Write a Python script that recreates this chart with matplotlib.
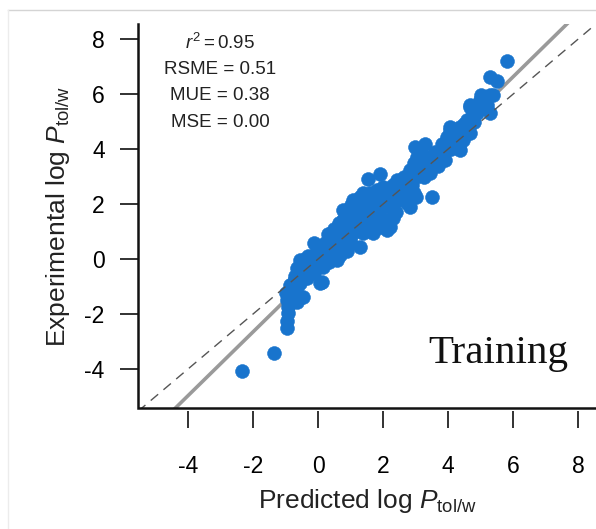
import matplotlib
matplotlib.use("Agg")
import matplotlib.pyplot as plt
from matplotlib.lines import Line2D
import numpy as np

plt.rcParams['font.family'] = ['Liberation Sans', 'DejaVu Sans']
plt.rcParams['mathtext.fontset'] = 'custom'
plt.rcParams['mathtext.rm'] = 'Liberation Sans'
plt.rcParams['mathtext.it'] = 'Liberation Sans:italic'

# predicted vs experimental log P (training set)
pred = [
    -2.35, -1.37,
    -0.96, -0.96, -0.93, -0.93, -0.96, -1.00,
    -0.86, -0.66, -0.55, -0.66, -0.45, -0.80,
    -0.55, -0.66, -0.45, -0.35, -0.61, -0.75,
    0.11, 0.06, -0.14, -0.20, -0.30, -0.14, -0.04, 0.06,
    0.00, 0.15, 0.25, 0.27, 0.37, 0.37, 0.47, 0.57, 0.68, 0.58, 0.45, 0.50,
    0.78, 0.88, 0.98, 1.09, 1.19, 1.29, 1.39, 1.19, 1.39, 1.29, 1.00, 0.85, 0.77, 1.08, 1.10, 0.70, 0.90,
    1.60, 1.81, 2.01, 2.22, 2.22, 2.11, 1.91, 1.70, 2.11, 1.50, 1.70, 1.50, 1.30, 1.90, 2.30,
    1.55, 1.91,
    1.60, 1.81, 2.01, 2.42, 2.63, 2.83, 2.73, 2.94, 2.63, 2.42, 2.83, 2.73, 2.20, 2.50, 2.30, 2.10,
    2.94, 3.04, 3.25, 3.45, 3.25, 3.14, 3.45, 3.65, 3.86, 3.96, 4.06, 4.16, 4.32, 4.47, 4.57, 4.06,
    3.96, 4.37, 4.57, 4.78, 4.88, 4.98, 5.09, 5.19, 5.39, 4.68, 4.62, 4.37, 4.68, 5.29, 4.06, 4.68,
    3.10, 3.60, 3.80,
    2.98, 3.29, 3.49,
    5.29, 5.50, 5.81, 5.00, 5.20,
    -0.85, -0.70, -0.50, -0.40, -0.25, -0.10, 0.10, 0.20, 0.30, 0.35, 0.55, 0.65, 0.75, 0.95,
    0.65, 1.00, 1.20, 1.40, 1.45, 1.65, 1.75, 1.25, 1.05, 0.90, 2.00, 2.40, 2.55, 2.60, 2.90,
    3.00, 3.20, 3.35, 3.50, 3.70, 3.90, 4.10, 4.20, 4.40, 4.50, 4.80, 4.90, 5.10, 5.30, 5.00,
    3.00, 2.30, 1.85, 1.95,
]
expt = [
    -4.07, -3.43,
    -2.52, -2.25, -1.98, -1.73, -1.49, -1.22,
    -1.13, -1.01, -0.88, -1.55, -1.37, -1.35,
    -0.04, -0.34, -0.52, -0.70, -0.64, -0.80,
    -0.82, -0.88, -0.52, -0.20, 0.10, 0.57, 0.33, 0.45,
    0.00, -0.30, 0.10, 0.57, 0.21, 0.69, 0.81, 0.93, 0.15, -0.04, 0.45, 1.10,
    1.42, 1.18, 1.66, 1.90, 2.08, 2.27, 2.39, 1.42, 0.93, 0.45, 0.60, 0.80, 1.78, 2.15, 1.20, 0.50, 0.30,
    1.42, 1.66, 1.90, 1.90, 1.18, 1.42, 1.18, 0.93, 1.05, 1.90, 2.10, 1.10, 1.70, 1.50, 1.50,
    2.90, 3.09,
    2.39, 2.51, 2.63, 2.87, 2.99, 3.24, 2.63, 2.39, 2.39, 2.15, 1.90, 2.02, 2.30, 2.50, 2.70, 2.20,
    3.48, 3.72, 3.60, 3.12, 2.99, 3.85, 3.36, 3.60, 3.84, 4.08, 4.21, 4.45, 4.08, 4.33, 4.69, 4.69,
    4.45, 4.81, 5.05, 5.30, 5.54, 5.78, 5.90, 5.90, 5.96, 5.61, 4.57, 3.96, 4.57, 5.30, 4.81, 5.54,
    3.20, 3.90, 4.20,
    4.08, 4.18, 2.27,
    6.61, 6.47, 7.21, 5.50, 5.60,
    -0.95, -0.60, -0.30, 0.00, -0.40, 0.10, 0.25, 0.60, 0.90, -0.10, 0.35, 0.75, 1.10, 1.40,
    1.30, 1.95, 1.80, 2.00, 1.50, 1.70, 1.30, 1.05, 0.90, 0.55, 1.30, 1.70, 2.20, 2.70, 2.70,
    3.00, 3.30, 3.70, 3.50, 3.40, 3.60, 4.00, 4.40, 4.50, 4.90, 5.00, 5.30, 5.70, 5.95, 5.95,
    2.25, 2.05, 2.30, 2.00,
]

fit_slope = 1.16
fit_intercept = -0.33

stats = ["$r^2 = 0.95$", "RSME = 0.51", "MUE = 0.38", "MSE = 0.00"]
ticks = [-4, -2, 0, 2, 4, 6, 8]

fig = plt.figure(figsize=(5.96, 5.29), dpi=100)
ax = fig.add_axes([138 / 596, 121 / 529, 458 / 596, 384 / 529])
xlim = (-5.54, 8.55)
ylim = (-5.42, 8.55)

# regression line under the points, y = x on top
xx = np.array(xlim)
ax.plot(xx, fit_slope * xx + fit_intercept, color='#9a9a9a', lw=2.6, zorder=1)
ax.scatter(pred, expt, s=100, color='#1874CD', edgecolors='#1874CD', linewidths=0.4, zorder=2)
ax.plot(xx, xx, color='#555555', lw=1.0, ls=(0, (7, 5)), zorder=3)

ax.set_xlim(xlim)
ax.set_ylim(ylim)
ax.set_xticks(ticks)
ax.set_yticks(ticks)
ax.set_xticklabels([str(t) for t in ticks])
ax.set_yticklabels([str(t) for t in ticks])

for s in ['top', 'right']:
    ax.spines[s].set_visible(False)
ax.spines['bottom'].set_position(('outward', 2))
ax.spines['bottom'].set_color('none')
ax.spines['left'].set_color('none')
# L-shaped box
ax.plot([0, 0, 1], [1, 0, 0], transform=ax.transAxes, color='#111111', lw=1.8,
        clip_on=False, zorder=5, solid_joinstyle='miter')

ax.tick_params(axis='x', length=12, width=1.3, pad=20, labelsize=16.5, color='#222222')
ax.tick_params(axis='y', length=13, width=1.3, pad=11, labelsize=16.5, color='#222222')

ax.set_xlabel(r'Predicted log $P_{\mathrm{tol/w}}$', fontsize=19, labelpad=6, color='#222222')
ax.set_ylabel(r'Experimental log $P_{\mathrm{tol/w}}$', fontsize=19, labelpad=9, color='#222222')

for i, t in enumerate(stats):
    fig.text(220 / 596, 1 - (43 + 26.5 * i) / 529, t, fontsize=13.5, ha='center', va='center',
             color='#222222')

fig.text(568 / 596, 1 - 363 / 529, 'Training', family=['Liberation Serif'], fontsize=29.5,
         ha='right', va='baseline', color='#111111')

# screenshot frame lines
fig.add_artist(Line2D([8 / 596, 1], [1 - 10 / 529, 1 - 10 / 529], transform=fig.transFigure,
                      color='#d4d4d4', lw=1))
fig.add_artist(Line2D([8 / 596, 8 / 596], [0, 1 - 10 / 529], transform=fig.transFigure,
                      color='#ececec', lw=1))

fig.savefig('out.png', dpi=100)
